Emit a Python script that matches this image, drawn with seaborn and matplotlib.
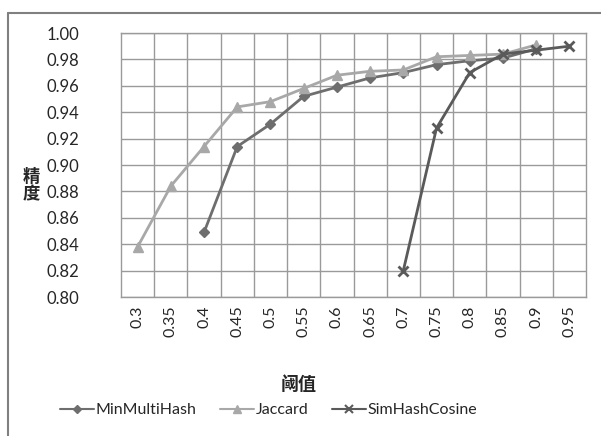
import pandas as pd
import matplotlib.pyplot as plt
import seaborn as sns
from matplotlib.lines import Line2D
from matplotlib.ticker import FixedLocator

thresholds = ["0.3", "0.35", "0.4", "0.45", "0.5", "0.55", "0.6", "0.65",
              "0.7", "0.75", "0.8", "0.85", "0.9", "0.95"]

minmulti_x = ["0.4", "0.45", "0.5", "0.55", "0.6", "0.65", "0.7", "0.75",
              "0.8", "0.85", "0.9"]
minmulti_y = [0.849, 0.914, 0.931, 0.952, 0.959, 0.966, 0.970, 0.976,
              0.979, 0.981, 0.988]

jaccard_x = ["0.3", "0.35", "0.4", "0.45", "0.5", "0.55", "0.6", "0.65",
             "0.7", "0.75", "0.8", "0.85", "0.9"]
jaccard_y = [0.838, 0.884, 0.914, 0.944, 0.948, 0.958, 0.968, 0.971,
             0.972, 0.982, 0.983, 0.984, 0.991]

simhash_x = ["0.7", "0.75", "0.8", "0.85", "0.9", "0.95"]
simhash_y = [0.820, 0.928, 0.970, 0.984, 0.987, 0.990]

series = {
    "MinMultiHash": (minmulti_x, minmulti_y, "#6e6e6e", "D", 5),
    "Jaccard": (jaccard_x, jaccard_y, "#a8a8a8", "^", 7),
    "SimHashCosine": (simhash_x, simhash_y, "#5a5a5a", "x", 7),
}

sns.set_style("white")
plt.rcParams["font.family"] = ["Lato", "Noto Sans CJK SC", "DejaVu Sans"]

fig = plt.figure(figsize=(6.01, 4.36), dpi=100)
ax = fig.add_axes([121 / 601, 1 - 297 / 436, 465 / 601, 264 / 436])

rows = []
for name, (xs, ys, _, _, _) in series.items():
    for x, y in zip(xs, ys):
        rows.append({"series": name, "pos": thresholds.index(x), "val": y})
df = pd.DataFrame(rows)

handles = []
for name, (xs, ys, color, marker, ms) in series.items():
    sub = df[df["series"] == name]
    sns.lineplot(data=sub, x="pos", y="val", ax=ax, color=color, lw=2,
                 marker=marker, markersize=ms, markeredgecolor=color,
                 markeredgewidth=2 if marker == "x" else 1, legend=False)
    handles.append(Line2D([], [], color=color, lw=1.5, marker=marker,
                          markersize=ms - 1, markeredgecolor=color,
                          markeredgewidth=1.5 if marker == "x" else 1,
                          label=name))

ax.set_xlim(-0.5, len(thresholds) - 0.5)
ax.set_ylim(0.80, 1.00)
ax.set_xticks(range(len(thresholds)))
ax.set_xticklabels(thresholds, rotation=90, fontsize=11.5)
ax.xaxis.set_minor_locator(FixedLocator([i + 0.5 for i in range(len(thresholds) - 1)]))
ax.set_yticks([0.80 + 0.02 * i for i in range(11)])
ax.set_yticklabels([f"{0.80 + 0.02 * i:.2f}" for i in range(11)], fontsize=12)
ax.tick_params(axis="x", which="both", length=0, pad=6)
ax.tick_params(axis="y", length=0, pad=30)

ax.grid(axis="y", which="major", color="#9a9a9a", lw=1)
ax.grid(axis="x", which="minor", color="#9a9a9a", lw=1)
ax.set_axisbelow(True)
for s in ax.spines.values():
    s.set_color("#9a9a9a")
    s.set_linewidth(1)

ax.set_xlabel("")
ax.set_ylabel("")
fig.text(0.052, 0.575, "精\n度", fontsize=12.5, fontweight="bold",
         ha="center", va="center", linespacing=1.1)
fig.text(0.497, 1 - 384 / 436, "阈值", fontsize=13, fontweight="bold",
         ha="center", va="center")

fig.legend(handles=handles, loc="center", bbox_to_anchor=(0.447, 1 - 410 / 436),
           ncol=3, frameon=False, fontsize=11.5, handlelength=2.1,
           handletextpad=0.1, columnspacing=1.5)

# border of the original chart box
fig.add_artist(Line2D([8 / 601, 1], [1 - 13 / 436, 1 - 13 / 436], color="#808080", lw=1.5))
fig.add_artist(Line2D([8 / 601, 8 / 601], [0, 1 - 13 / 436], color="#808080", lw=1.5))

fig.savefig("out.png", dpi=100)
